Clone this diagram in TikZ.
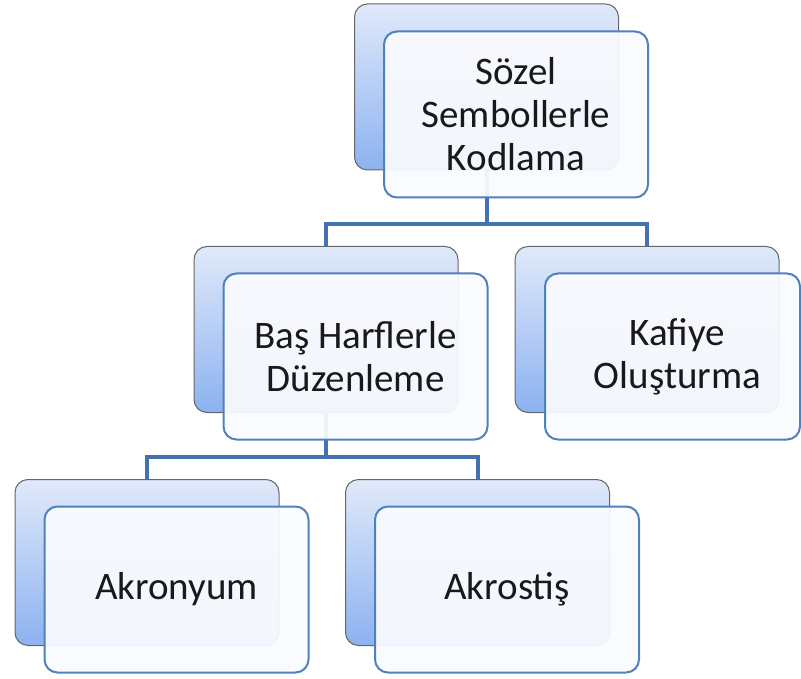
\documentclass[tikz,border=0pt]{standalone}
\usepackage{fontspec}
\setmainfont{Carlito}
\definecolor{backtop}{RGB}{224,233,250}
\definecolor{backbot}{RGB}{140,178,240}
\definecolor{connblue}{RGB}{68,114,176}
\definecolor{frontborder}{RGB}{79,129,189}
\definecolor{frontfill}{RGB}{250,251,254}
\begin{document}
\begin{tikzpicture}[x=1pt,y=-1pt,
  backbox/.style={rectangle, rounded corners=13pt, minimum width=264pt,
    minimum height=166pt, top color=backtop, bottom color=backbot,
    draw=black!60, line width=1pt},
  frontbox/.style={rectangle, rounded corners=13pt, minimum width=264pt,
    minimum height=166pt, fill=frontfill, fill opacity=0.93, text opacity=1,
    draw=frontborder, line width=2pt, align=center,
    font=\fontsize{39}{43}\selectfont, text=black!90},
  conn/.style={draw=connblue, line width=4pt, line join=miter}]
\useasboundingbox (0,0) rectangle (801,679);

% shaded back cards
\node[backbox] (topB) at (486.5,87) {};
\node[backbox] (mLB) at (326,329.5) {};
\node[backbox] (mRB) at (647,329.5) {};
\node[backbox] (bLB) at (147,562.5) {};
\node[backbox] (bRB) at (477.5,562.5) {};

% horizontal bus levels
\coordinate (busA) at (0,224.5);
\coordinate (busB) at (0,456.5);

% tree connectors
\draw[conn] (topB.south) -- (topB.south |- busA);
\draw[conn] (mLB.north) |- (busA -| topB.south) -| (mRB.north);
\draw[conn] (mLB.south) -- (mLB.south |- busB);
\draw[conn] (bLB.north) |- (busB -| mLB.south) -| (bRB.north);

% front cards with the labels
\node[frontbox] (topF) at (516,114.5) {Sözel\\Sembollerle\\Kodlama};
\node[frontbox] (mLF) at (355.5,356.5) {Baş Harflerle\\Düzenleme};
\node[frontbox, minimum width=255pt] (mRF) at (672.5,356.5)
  {\hspace*{10pt}Kafiye\\\hspace*{10pt}Oluşturma};
\node[frontbox] (bLF) at (176.5,589.5) {Akronyum};
\node[frontbox] (bRF) at (507,589.5) {Akrostiş};
\end{tikzpicture}
\end{document}
